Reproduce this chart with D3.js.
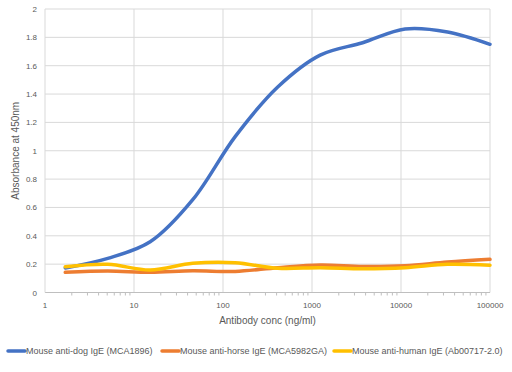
<!DOCTYPE html>
<html>
<head>
<meta charset="utf-8">
<script src="https://cdn.jsdelivr.net/npm/d3@7"></script>
<style>
  body { margin:0; background:#fff; }
  text { font-family: "Liberation Sans", Arial, sans-serif; }
</style>
</head>
<body>
<div class="canvas"></div>
<script>

// data
var conc = [1.69, 5.08, 15.2, 45.7, 137, 412, 1235, 3704, 11111, 33333, 100000];
var dog = [0.173, 0.241, 0.358, 0.655, 1.10, 1.45, 1.675, 1.762, 1.859, 1.838, 1.751];
var horse = [0.142, 0.152, 0.142, 0.153, 0.148, 0.175, 0.194, 0.184, 0.189, 0.215, 0.234];
var human = [0.182, 0.199, 0.159, 0.206, 0.210, 0.171, 0.175, 0.168, 0.175, 0.199, 0.192];
var seriesNames = ["Mouse anti-dog IgE (MCA1896)", "Mouse anti-horse IgE (MCA5982GA)", "Mouse anti-human IgE (Ab00717-2.0)"];
var colors = ["#4472C4", "#ED7D31", "#FFC000"];
var xTicks = [1, 10, 100, 1000, 10000, 100000];
var yTicks = [0, 0.2, 0.4, 0.6, 0.8, 1, 1.2, 1.4, 1.6, 1.8, 2];

var W = 512, H = 372;
var margin = {t:9, l:45, b:79.5, r:22};

var svg = d3.select('.canvas')
    .append('svg')
    .attr('width', W)
    .attr('height', H);

var x = d3.scaleLog().domain([1, 100000]).range([margin.l, W - margin.r]);
var y = d3.scaleLinear().domain([0, 2]).range([H - margin.b, margin.t]);

// grid
svg.append('g').selectAll('line')
    .data(yTicks.slice(1))
    .enter().append('line')
    .attr('x1', x(1)).attr('x2', x(100000))
    .attr('y1', function(d){ return y(d); })
    .attr('y2', function(d){ return y(d); })
    .attr('stroke', '#d9d9d9').attr('stroke-width', 1);

svg.append('g').selectAll('line')
    .data(xTicks.slice(1))
    .enter().append('line')
    .attr('x1', function(d){ return x(d); })
    .attr('x2', function(d){ return x(d); })
    .attr('y1', y(0)).attr('y2', y(2))
    .attr('stroke', '#d9d9d9').attr('stroke-width', 1);

// x axis with minor ticks
var minor = [];
xTicks.slice(0, -1).forEach(function(d){
    for (var k = 2; k < 10; k++) minor.push(d * k);
});
svg.append('g').selectAll('line')
    .data(minor)
    .enter().append('line')
    .attr('x1', function(d){ return x(d); })
    .attr('x2', function(d){ return x(d); })
    .attr('y1', y(0)).attr('y2', y(0) + 3)
    .attr('stroke', '#bfbfbf');

svg.append('line')
    .attr('x1', x(1)).attr('x2', x(100000))
    .attr('y1', y(0)).attr('y2', y(0))
    .attr('stroke', '#bfbfbf');
svg.append('line')
    .attr('x1', x(1)).attr('x2', x(1))
    .attr('y1', y(0)).attr('y2', y(2))
    .attr('stroke', '#d9d9d9');

// tick labels
svg.append('g').selectAll('text')
    .data(xTicks)
    .enter().append('text')
    .attr('x', function(d){ return x(d); })
    .attr('y', y(0) + 15)
    .attr('text-anchor', 'middle')
    .attr('font-size', '8px')
    .attr('fill', '#595959')
    .text(function(d){ return d; });

svg.append('g').selectAll('text')
    .data(yTicks)
    .enter().append('text')
    .attr('x', x(1) - 8)
    .attr('y', function(d){ return y(d) + 3; })
    .attr('text-anchor', 'end')
    .attr('font-size', '8px')
    .attr('fill', '#595959')
    .text(function(d){ return d; });

// axis titles
svg.append('text')
    .attr('x', (x(1) + x(100000)) / 2)
    .attr('y', 324)
    .attr('text-anchor', 'middle')
    .attr('font-size', '10px')
    .attr('fill', '#595959')
    .text('Antibody conc (ng/ml)');

svg.append('text')
    .attr('transform', 'translate(19,' + ((y(0) + y(2)) / 2) + ') rotate(-90)')
    .attr('text-anchor', 'middle')
    .attr('font-size', '10px')
    .attr('fill', '#595959')
    .text('Absorbance at 450nm');

// lines
var line = d3.line()
    .x(function(d){ return x(d[0]); })
    .y(function(d){ return y(d[1]); })
    .curve(d3.curveCatmullRom);

[dog, horse, human].forEach(function(vals, i){
    svg.append('path')
        .datum(conc.map(function(c, j){ return [c, vals[j]]; }))
        .attr('d', line)
        .attr('fill', 'none')
        .attr('stroke', colors[i])
        .attr('stroke-width', 3.5)
        .attr('stroke-linecap', 'round');
});

// legend
var legX = [7, 161, 333];
seriesNames.forEach(function(name, i){
    svg.append('line')
        .attr('x1', legX[i] + 1).attr('x2', legX[i] + 18)
        .attr('y1', 351).attr('y2', 351)
        .attr('stroke', colors[i]).attr('stroke-width', 3.5)
        .attr('stroke-linecap', 'round');
    svg.append('text')
        .attr('x', legX[i] + 19)
        .attr('y', 354)
        .attr('font-size', '9px')
        .attr('fill', '#595959')
        .text(name);
});

</script>
</body>
</html>
